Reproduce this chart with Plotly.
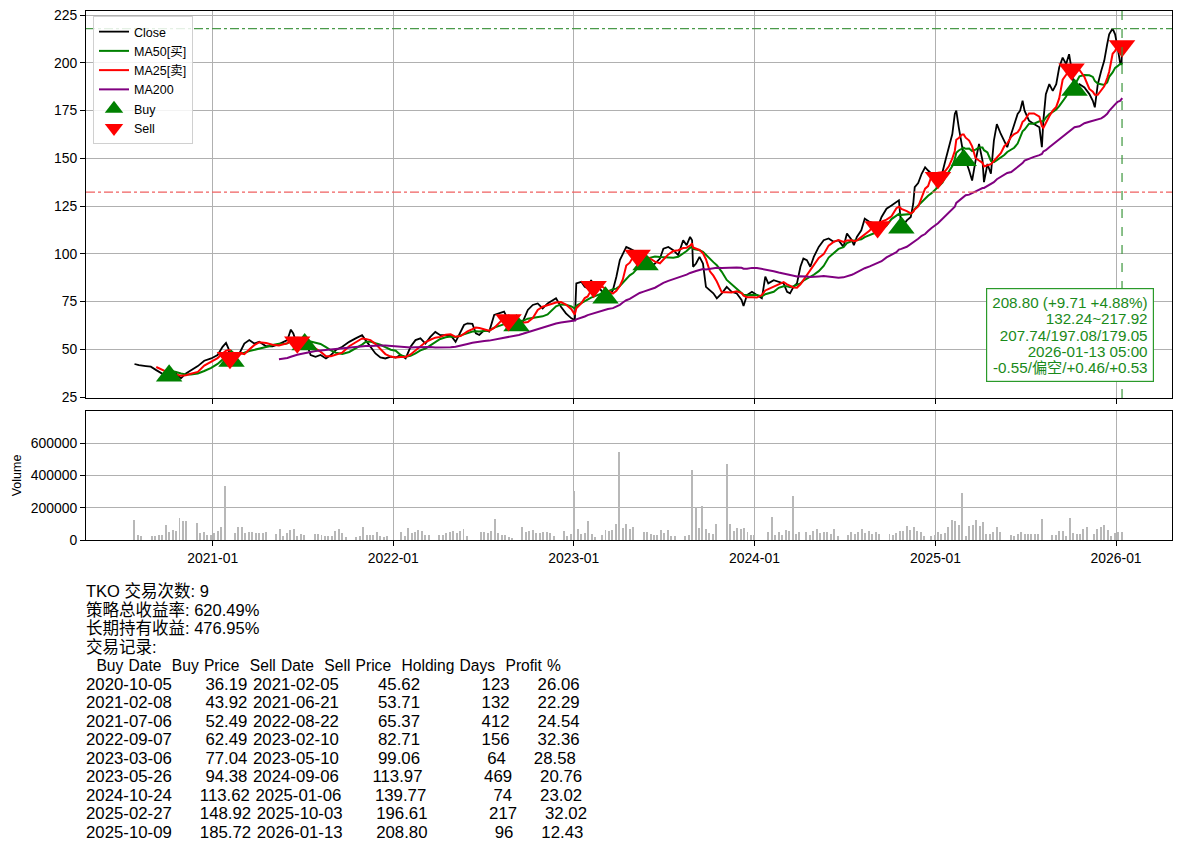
import pandas as pd
import plotly.graph_objects as go

# ---------------- data ----------------
ticker = "TKO"
trade_count = 9
strategy_return = "620.49%"
hold_return = "476.95%"

close_dates = [
    "2020-07-27", "2020-08-05", "2020-08-19", "2020-08-29", "2020-09-09", "2020-09-19", "2020-09-29",
    "2020-10-12", "2020-10-19", "2020-10-29", "2020-11-08", "2020-11-18", "2020-12-02", "2020-12-15",
    "2020-12-29", "2021-01-11", "2021-01-21", "2021-01-28", "2021-02-02", "2021-02-14", "2021-02-24",
    "2021-03-06", "2021-03-16", "2021-03-26", "2021-04-05", "2021-04-19", "2021-05-02", "2021-05-15",
    "2021-05-26", "2021-06-01", "2021-06-08", "2021-06-13", "2021-06-17", "2021-06-28", "2021-07-12",
    "2021-07-18", "2021-07-28", "2021-08-07", "2021-08-18", "2021-08-28", "2021-09-07", "2021-09-20",
    "2021-10-04", "2021-10-17", "2021-10-30", "2021-11-06", "2021-11-16", "2021-11-26", "2021-12-06",
    "2021-12-16", "2021-12-27", "2022-01-06", "2022-01-16", "2022-01-26", "2022-02-05", "2022-02-15",
    "2022-02-25", "2022-03-07", "2022-03-17", "2022-03-27", "2022-04-06", "2022-04-17", "2022-04-27",
    "2022-05-07", "2022-05-17", "2022-05-24", "2022-05-31", "2022-06-10", "2022-06-17", "2022-06-24",
    "2022-07-04", "2022-07-14", "2022-07-24", "2022-08-03", "2022-08-13", "2022-08-18", "2022-09-03",
    "2022-09-12", "2022-09-20", "2022-09-30", "2022-10-10", "2022-10-20", "2022-10-30", "2022-11-09",
    "2022-11-19", "2022-11-26", "2022-12-06", "2022-12-16", "2022-12-27", "2023-01-03", "2023-01-06",
    "2023-01-16", "2023-01-23", "2023-01-29", "2023-02-05", "2023-02-22", "2023-03-02", "2023-03-11",
    "2023-03-21", "2023-03-28", "2023-04-04", "2023-04-10", "2023-04-17", "2023-04-24", "2023-05-01",
    "2023-05-07", "2023-05-14", "2023-05-22", "2023-06-03", "2023-06-14", "2023-06-24", "2023-07-01",
    "2023-07-11", "2023-07-21", "2023-07-31", "2023-08-10", "2023-08-17", "2023-08-24", "2023-08-28",
    "2023-08-30", "2023-09-05", "2023-09-12", "2023-09-19", "2023-09-25", "2023-10-03", "2023-10-10",
    "2023-10-17", "2023-10-27", "2023-11-06", "2023-11-16", "2023-11-26", "2023-12-06", "2023-12-10",
    "2023-12-17", "2023-12-27", "2024-01-06", "2024-01-16", "2024-01-23", "2024-01-29", "2024-02-09",
    "2024-02-19", "2024-02-29", "2024-03-07", "2024-03-13", "2024-03-20", "2024-03-27", "2024-04-03",
    "2024-04-09", "2024-04-16", "2024-04-23", "2024-04-30", "2024-05-10", "2024-05-20", "2024-05-30",
    "2024-06-09", "2024-06-19", "2024-06-29", "2024-07-06", "2024-07-16", "2024-07-20", "2024-07-26",
    "2024-08-04", "2024-08-11", "2024-08-21", "2024-08-31", "2024-09-14", "2024-09-24", "2024-10-04",
    "2024-10-14", "2024-10-19", "2024-11-04", "2024-11-12", "2024-11-17", "2024-11-20", "2024-11-27",
    "2024-12-04", "2024-12-11", "2024-12-17", "2024-12-24", "2025-01-15", "2025-01-21", "2025-01-28",
    "2025-02-04", "2025-02-09", "2025-02-12", "2025-02-17", "2025-02-24", "2025-03-03", "2025-03-10",
    "2025-03-16", "2025-03-23", "2025-03-30", "2025-04-06", "2025-04-09", "2025-04-16", "2025-04-23",
    "2025-04-29", "2025-05-05", "2025-05-13", "2025-05-20", "2025-05-26", "2025-06-03", "2025-06-09",
    "2025-06-16", "2025-06-21", "2025-06-26", "2025-06-30", "2025-07-09", "2025-07-19", "2025-07-30",
    "2025-08-04", "2025-08-07", "2025-08-12", "2025-08-19", "2025-08-26", "2025-09-02", "2025-09-08",
    "2025-09-15", "2025-09-22", "2025-09-28", "2025-10-19", "2025-10-29", "2025-11-08", "2025-11-15",
    "2025-11-19", "2025-11-25", "2025-12-02", "2025-12-08", "2025-12-14", "2025-12-18", "2025-12-25",
    "2025-12-30", "2026-01-04", "2026-01-09", "2026-01-12",
]
close_values = [
    42.3, 41.7, 41.2, 40.9, 39.1, 37.4, 36.0,
    36.5, 37.4, 34.8, 37.4, 39.1, 41.2, 44.0,
    45.2, 47.0, 51.3, 53.4, 50.4, 44.0, 47.8,
    53.0, 54.8, 53.0, 53.9, 51.6, 51.6, 52.7,
    53.9, 54.8, 60.3, 58.3, 55.2, 54.8, 51.3,
    47.0, 46.1, 47.0, 45.2, 47.0, 49.6, 51.3,
    53.9, 55.7, 57.4, 54.8, 51.3, 47.8, 45.7,
    45.2, 46.1, 45.7, 47.0, 45.2, 51.3, 54.8,
    55.7, 53.0, 56.5, 59.1, 57.4, 57.4, 57.4,
    53.9, 59.1, 62.7, 63.6, 63.3, 58.4, 57.5,
    60.1, 59.3, 68.0, 68.8, 69.7, 67.1, 62.7,
    61.0, 64.5, 70.6, 73.2, 74.0, 71.4, 74.0,
    75.8, 76.7, 72.3, 68.8, 66.2, 65.3, 84.5,
    85.3, 82.7, 81.9, 86.2, 81.9, 79.3, 76.7,
    81.0, 88.0, 96.7, 100.1, 103.6, 102.7, 101.9,
    101.0, 98.4, 95.2, 93.2, 94.9, 97.5, 102.7,
    103.6, 101.9, 99.3, 107.1, 104.5, 108.8, 107.1,
    93.2, 94.9, 98.4, 94.9, 82.7, 81.0, 79.3,
    76.7, 79.3, 82.7, 80.1, 79.3, 75.8, 72.7,
    78.4, 80.1, 78.4, 76.7, 88.0, 84.5, 86.2,
    85.3, 84.5, 80.1, 79.3, 82.7, 84.5, 93.2,
    97.5, 96.7, 93.2, 98.4, 103.6, 107.1, 108.0,
    106.3, 107.1, 103.6, 110.6, 107.1, 104.5, 108.8,
    112.3, 118.4, 116.7, 115.8, 119.3, 123.6, 125.3,
    127.1, 128.0, 117.5, 119.3, 126.2, 134.9, 137.0,
    141.9, 145.3, 143.6, 141.9, 142.7, 148.8, 155.8,
    162.7, 173.2, 174.9, 166.2, 155.8, 148.8, 143.6,
    138.3, 148.8, 157.5, 148.8, 137.5, 147.0, 141.9,
    159.2, 167.9, 162.7, 159.2, 155.8, 162.7, 167.9,
    173.2, 174.9, 180.1, 174.9, 169.7, 167.9, 166.2,
    155.8, 169.7, 183.6, 188.8, 185.3, 188.8, 197.5,
    202.7, 199.3, 204.5, 188.8, 187.1, 183.6, 180.1,
    176.7, 188.8, 195.8, 201.0, 209.7, 214.9, 217.92,
    214.9, 208.0, 200.2, 199.09,
]

buy_dates = ["2020-10-05", "2021-02-08", "2021-07-06", "2022-09-07", "2023-03-06",
             "2023-05-26", "2024-10-24", "2025-02-27", "2025-10-09"]
buy_prices = [36.19, 43.92, 52.49, 62.49, 77.04, 94.38, 113.62, 148.92, 185.72]
sell_dates = ["2021-02-05", "2021-06-21", "2022-08-22", "2023-02-10", "2023-05-10",
              "2024-09-06", "2025-01-06", "2025-10-03", "2026-01-13"]
sell_prices = [45.62, 53.71, 65.37, 82.71, 99.06, 113.97, 139.77, 196.61, 208.80]
holding_days = [123, 132, 412, 156, 64, 469, 74, 217, 96]
profit_pct = [26.06, 22.29, 24.54, 32.36, 28.58, 20.76, 23.02, 32.02, 12.43]

range_low = 132.24
range_high = 217.92
info_lines = [
    "208.80 (+9.71 +4.88%)",
    "132.24~217.92",
    "207.74/197.08/179.05",
    "2026-01-13 05:00",
    "-0.55/偏空/+0.46/+0.53",
]

# weekly volume samples (thousands), one per 7 days starting at vol_start
vol_start = "2020-07-27"
volume_k = [
    125, 33, 22, 0, 0, 22, 25, 30, 30, 94,
    47, 63, 53, 135, 119, 115, 0, 0, 104, 43,
    47, 29, 33, 43, 57, 82, 334, 0, 0, 43,
    80, 78, 43, 47, 49, 43, 43, 43, 47, 0,
    0, 37, 70, 27, 43, 63, 65, 27, 35, 31,
    0, 0, 39, 35, 33, 27, 22, 22, 53, 68,
    43, 18, 0, 0, 18, 22, 82, 33, 33, 33,
    49, 22, 18, 27, 0, 0, 0, 49, 27, 76,
    43, 49, 63, 53, 33, 33, 0, 0, 29, 33,
    43, 49, 57, 43, 53, 70, 27, 0, 0, 0,
    47, 51, 43, 53, 131, 43, 29, 29, 18, 12,
    0, 0, 78, 47, 53, 63, 43, 43, 49, 47,
    43, 27, 0, 0, 57, 27, 37, 305, 68, 37,
    43, 119, 39, 16, 0, 33, 63, 53, 59, 98,
    542, 74, 98, 68, 78, 0, 0, 47, 47, 39,
    29, 33, 59, 43, 63, 27, 27, 0, 0, 27,
    33, 432, 205, 74, 211, 70, 43, 37, 100, 0,
    0, 469, 100, 53, 74, 68, 74, 47, 33, 33,
    0, 0, 0, 51, 145, 33, 47, 33, 63, 53,
    272, 39, 47, 0, 47, 33, 57, 68, 43, 49,
    47, 39, 70, 22, 0, 0, 33, 49, 39, 49,
    70, 43, 53, 37, 49, 37, 0, 0, 39, 33,
    43, 57, 53, 84, 59, 80, 53, 47, 27, 0,
    22, 33, 47, 37, 43, 78, 121, 115, 94, 293,
    22, 84, 94, 121, 84, 110, 39, 37, 47, 80,
    47, 0, 0, 33, 27, 37, 49, 39, 37, 39,
    37, 39, 131, 0, 0, 29, 33, 57, 53, 22,
    137, 43, 37, 37, 68, 78, 0, 37, 70, 80,
    94, 63, 22, 43, 47, 47,
]

# ---------------- derived series ----------------
s = pd.Series(close_values, index=pd.to_datetime(close_dates))
trades = pd.concat([
    pd.Series(buy_prices, index=pd.to_datetime(buy_dates)),
    pd.Series(sell_prices, index=pd.to_datetime(sell_dates)),
])
s = pd.concat([s, trades]).sort_index()
s = s[~s.index.duplicated(keep="last")]

first = s.index[0]
def moving(win_days):
    m = s.rolling(f"{win_days}D").mean()
    m[m.index < first + pd.Timedelta(days=win_days)] = None
    return m

ma25 = moving(36)
ma50 = moving(70)
ma200 = moving(287)

vol_dates = pd.date_range(vol_start, periods=len(volume_k), freq="7D")
volume = [v * 1000 for v in volume_k]

# ---------------- figure ----------------
FONT = "Liberation Sans, Noto Sans CJK SC, sans-serif"
W, H = 1180, 841
fig = go.Figure()

fig.add_trace(go.Scatter(x=s.index, y=s.values, mode="lines", name="Close",
                         line=dict(color="black", width=1.8)))
fig.add_trace(go.Scatter(x=ma50.index, y=ma50.values, mode="lines", name="MA50[买]",
                         line=dict(color="green", width=2)))
fig.add_trace(go.Scatter(x=ma25.index, y=ma25.values, mode="lines", name="MA25[卖]",
                         line=dict(color="red", width=2)))
fig.add_trace(go.Scatter(x=ma200.index, y=ma200.values, mode="lines", name="MA200",
                         line=dict(color="purple", width=2)))
fig.add_trace(go.Scatter(x=pd.to_datetime(buy_dates), y=buy_prices, mode="markers", name="Buy",
                         marker=dict(symbol="triangle-up", size=23, color="green")))
fig.add_trace(go.Scatter(x=pd.to_datetime(sell_dates), y=sell_prices, mode="markers", name="Sell",
                         marker=dict(symbol="triangle-down", size=23, color="red")))
fig.add_trace(go.Bar(x=vol_dates, y=volume, xaxis="x2", yaxis="y2", showlegend=False,
                     marker=dict(color="#b8b8b8", line=dict(width=0)),
                     width=2 * 86400000))

xdom = [86 / W, 1172 / W]
xrange = ["2020-04-20", "2026-04-24"]
grid = "#b0b0b0"
axis_common = dict(showline=True, linecolor="black", linewidth=1, mirror=True,
                   showgrid=True, gridcolor=grid, gridwidth=1, zeroline=False,
                   ticks="outside", ticklen=5, tickcolor="black", automargin=False,
                   tickfont=dict(size=13.9, color="black", family=FONT))

fig.update_layout(
    width=W, height=H,
    margin=dict(l=0, r=0, t=0, b=0, autoexpand=False),
    paper_bgcolor="white", plot_bgcolor="white",
    font=dict(family=FONT, color="black", size=13),
    bargap=0,
    xaxis=dict(domain=xdom, range=xrange, anchor="y", showticklabels=False,
               dtick="M12", tick0="2021-01-01", **axis_common),
    yaxis=dict(domain=[1 - 398 / H, 1 - 11 / H], range=[24.5, 227.1], anchor="x",
               dtick=25, tick0=0, **axis_common),
    xaxis2=dict(domain=xdom, range=xrange, anchor="y2", matches="x",
                dtick="M12", tick0="2021-01-01", tickformat="%Y-%m", **axis_common),
    yaxis2=dict(domain=[1 - 540 / H, 1 - 411 / H], range=[0, 798000], anchor="x2",
                tickvals=[0, 200000, 400000, 600000], tickformat="d",
                title=dict(text="Volume", font=dict(size=12.5, family=FONT), standoff=6),
                **axis_common),
    legend=dict(x=93 / W, y=1 - 16 / H, xanchor="left", yanchor="top",
                bgcolor="rgba(255,255,255,0.85)", bordercolor="#d0d0d0", borderwidth=1,
                font=dict(size=12.5, family=FONT), itemsizing="trace", tracegroupgap=0),
    showlegend=True,
)

# reference lines
fig.add_shape(type="line", xref="x domain", yref="y", x0=0, x1=1, y0=range_high, y1=range_high,
              line=dict(color="#4a9a4a", width=1.2, dash="dashdot"))
fig.add_shape(type="line", xref="x domain", yref="y", x0=0, x1=1, y0=range_low, y1=range_low,
              line=dict(color="#f06060", width=1.2, dash="dashdot"))
fig.add_shape(type="line", xref="x", yref="y domain", x0=sell_dates[-1], x1=sell_dates[-1], y0=0, y1=1,
              line=dict(color="#3c963c", width=1.2, dash="dash"))

# info box (line pitch from base size, glyphs from span size)
info_text = "<br>".join(f'<span style="font-size:15.2px">{t}</span>' for t in info_lines)
fig.add_annotation(xref="paper", yref="paper", x=1154 / W, y=1 - 382 / H,
                   xanchor="right", yanchor="bottom", align="right",
                   text=info_text, showarrow=False,
                   font=dict(size=16.2 / 1.3, color="#1a8a1a", family=FONT),
                   bordercolor="#2a9a2a", borderwidth=1.2, borderpad=5, bgcolor="white")

# summary text block
SP = "\u2004"
header = "  Buy Date  Buy Price  Sell Date  Sell Price  Holding Days  Profit %"
rows = [f"{bd:>10} {bp:>10.2f} {sd:>10} {sp:>11.2f} {hd:>13d} {pf:>9.2f}"
        for bd, bp, sd, sp, hd, pf in zip(buy_dates, buy_prices, sell_dates,
                                          sell_prices, holding_days, profit_pct)]
head_lines = [f"{ticker} 交易次数: {trade_count}",
              f"策略总收益率: {strategy_return}",
              f"长期持有收益: {hold_return}",
              "交易记录:"]
table_lines = [header.replace(" ", SP)] + [r.replace(" ", SP) for r in rows]
block = ([f'<span style="font-size:16.5px">{t}</span>' for t in head_lines] +
         [f'<span style="font-size:15.6px">{table_lines[0]}</span>'] +
         [f'<span style="font-size:16.8px">{t}</span>' for t in table_lines[1:]])
fig.add_annotation(xref="paper", yref="paper", x=84 / W, y=1 - 580 / H,
                   xanchor="left", yanchor="top", showarrow=False, align="left",
                   text="<br>".join(block),
                   font=dict(size=18.5 / 1.3, color="black", family=FONT))

fig.write_html("out.html", config={"displayModeBar": False},
               post_script="document.body.style.margin='0';document.body.style.overflow='hidden';")
